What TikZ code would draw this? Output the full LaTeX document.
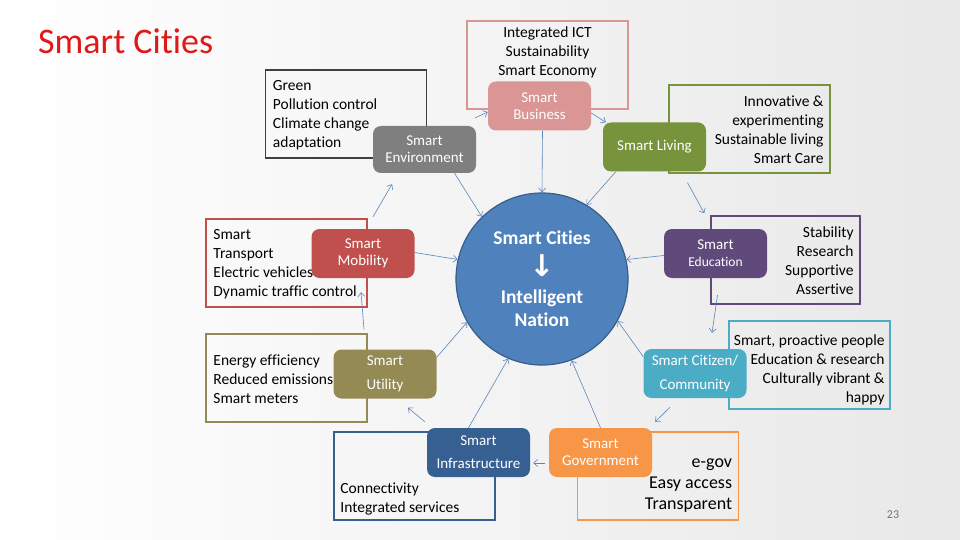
\documentclass[tikz,border=0pt]{standalone}
\usepackage{fontspec}
\setmainfont{Carlito}[Ligatures=NoCommon]
\newfontfamily\arrowfont{DejaVu Sans}
\usepackage{xcolor}
\usetikzlibrary{arrows.meta,positioning,calc}
\definecolor{bizpink}{HTML}{D99694}
\definecolor{envgray}{HTML}{7F7F7F}
\definecolor{envline}{HTML}{404040}
\definecolor{livgreen}{HTML}{77933C}
\definecolor{edupurple}{HTML}{604A7B}
\definecolor{mobred}{HTML}{C0504D}
\definecolor{utiolive}{HTML}{948A54}
\definecolor{citteal}{HTML}{4BACC6}
\definecolor{infblue}{HTML}{376092}
\definecolor{govorange}{HTML}{F79646}
\definecolor{hubblue}{HTML}{4F81BD}
\definecolor{hubline}{HTML}{385D8A}
\definecolor{linkblue}{HTML}{5A86BA}
\definecolor{titlered}{HTML}{E01818}
\newcommand{\setfs}[2]{\fontsize{#1}{#2}\selectfont}

\begin{document}
\begin{tikzpicture}[x=1pt, y=-1pt, >={Straight Barb[length=4pt,width=7pt]},
  tile/.style={rounded corners=8pt, minimum width=103pt, minimum height=49pt,
    inner sep=0pt, text=white, align=center, font=\setfs{15}{17}},
  note/.style={draw, line width=1.5pt, minimum width=161pt, minimum height=88pt, inner sep=0pt},
  notetext/.style={inner sep=0pt, font=\setfs{15.5}{19}},
  link/.style={->, draw=linkblue, line width=0.6pt}]
  % slide background
  \fill[left color=white, right color=black!9] (0,0) rectangle (960,540);
  \useasboundingbox (0,0) rectangle (960,540);
  \node[anchor=west, inner sep=0pt, text=titlered, font=\setfs{36}{40}] (title) at (38,41) {Smart Cities};
  \node[inner sep=0pt, text=black!55, font=\setfs{12}{14}] (pageno) at (893,515) {23};
  % outline boxes with their keywords
  \node[note, draw=bizpink] (busnote) at (547.5,65) {};
  \node[notetext, align=center] (bustxt) at ([yshift=-32pt]busnote.north) {Integrated ICT\\Sustainability\\Smart Economy};
  \node[note, draw=envline] (envnote) at (346,114) {};
  \node[notetext, align=left, anchor=west] (envtxt) at ([xshift=8pt,yshift=-1pt]envnote.west) {Green\\Pollution control\\Climate change\\adaptation};
  \node[note, draw=livgreen] (livnote) at (749.5,129) {};
  \node[notetext, align=right, anchor=east] (livtxt) at ([xshift=-7pt,yshift=-0.5pt]livnote.east) {Innovative \&\\experimenting\\Sustainable living\\Smart Care};
  \node[note, draw=edupurple, minimum width=149pt] (edunote) at (785.5,260) {};
  \node[notetext, align=right, anchor=east] (edutxt) at ([xshift=-7pt,yshift=-0.5pt]edunote.east) {Stability\\Research\\Supportive\\Assertive};
  \node[note, draw=mobred] (mobnote) at (286.5,263) {};
  \node[notetext, align=left, anchor=west] (mobtxt) at ([xshift=8pt,yshift=-1pt]mobnote.west) {Smart\\Transport\\Electric vehicles\\Dynamic traffic control};
  \node[note, draw=utiolive] (utinote) at (286.5,378) {};
  \node[notetext, align=left, anchor=west] (utitxt) at ([xshift=8pt,yshift=-1pt]utinote.west) {Energy efficiency\\Reduced emissions\\Smart meters};
  \node[note, draw=citteal] (citnote) at (809.5,365) {};
  \node[notetext, align=right, anchor=east] (cittxt) at ([xshift=-6pt,yshift=-5pt]citnote.east) {Smart, proactive people\\Education \& research\\Culturally vibrant \&\\happy};
  \node[note, draw=infblue] (infnote) at (414.5,476) {};
  \node[notetext, align=left, anchor=west] (inftxt) at ([xshift=7pt,yshift=-22.5pt]infnote.west) {Connectivity\\Integrated services};
  \node[note, draw=govorange] (govnote) at (658,476) {};
  \node[notetext, align=right, anchor=east, font=\setfs{18}{21}] (govtxt) at ([xshift=-7pt,yshift=-10pt]govnote.east) {e-gov\\Easy access\\Transparent};
  % coloured tiles
  \node[tile, fill=bizpink] (bus) at (539.5,106) {Smart\\Business};
  \node[tile, fill=envgray, minimum height=47pt] (env) at (424.5,149.5) {Smart\\Environment};
  \node[tile, fill=livgreen] (liv) at (654.5,147) {Smart Living};
  \node[tile, fill=edupurple] (edu) at (715.5,253.5) {Smart\\{\setfs{13.5}{15}Education}};
  \node[tile, fill=mobred] (mob) at (363,253.5) {Smart\\Mobility};
  \node[tile, fill=utiolive] (uti) at (385,374) {Smart\\[7pt]Utility};
  \node[tile, fill=citteal] (cit) at (695,373.5) {Smart Citizen/\\[7pt]Community};
  \node[tile, fill=infblue] (inf) at (478.5,452.5) {Smart\\[6pt]Infrastructure};
  \node[tile, fill=govorange] (gov) at (600.5,452.5) {Smart\\Government};
  % centre
  \node[circle, fill=hubblue, draw=hubline, line width=1.2pt, minimum size=172pt, inner sep=0pt,
    text=white, align=center, font=\bfseries\setfs{19.5}{23}] (hub) at (542,279)
    {Smart Cities\\[9pt]{\arrowfont\setfs{30}{30}↓}\\[4pt]Intelligent\\Nation};
  % spokes into the centre
  \draw[link] ([xshift=30pt]env.south) -- (hub.134);
  \draw[link] ([xshift=3pt]bus.south) -- (hub.north);
  \draw[link] ([xshift=13pt]liv.south west) -- (hub.59);
  \draw[link] ([yshift=-2pt]edu.west) -- (hub.13);
  \draw[link] ([yshift=1pt]mob.east) -- (hub.167);
  \draw[link] ([yshift=-8pt]uti.north east) -- (hub.-150);
  \draw[link] ([xshift=-10pt]inf.north) -- (hub.-113);
  \draw[link] (gov.north) -- (hub.-70);
  \draw[link] ([yshift=-8pt]cit.north west) -- (hub.-29);
  % ring round the tiles
  \draw[link] ([xshift=-1pt,yshift=8pt]env.north east) -- ([yshift=-6pt]bus.west);
  \draw[link] ([yshift=-7pt]bus.east) -- ([xshift=3pt]liv.north west);
  \draw[link] ([xshift=33pt,yshift=-11pt]liv.south) -- ([xshift=-6pt,yshift=2pt]edunote.north west);
  \draw[link] ([xshift=2pt,yshift=-17pt]edu.south) -- ([xshift=17pt,yshift=16pt]cit.north);
  \draw[link] ([xshift=-25pt,yshift=-9pt]cit.south) -- ([xshift=3pt,yshift=6pt]gov.north east);
  \draw[link] ([xshift=-4pt,yshift=-10.5pt]gov.west) -- ([xshift=3pt,yshift=-10.5pt]inf.east);
  \draw[link] ([xshift=-2pt,yshift=6pt]inf.north west) -- ([xshift=23pt,yshift=-9pt]uti.south);
  \draw[link] ([xshift=-21pt,yshift=20pt]uti.north) -- ([xshift=-2pt,yshift=-14pt]mob.south);
  \draw[link] ([xshift=10pt,yshift=12pt]mob.north) -- ([xshift=-32.5pt,yshift=-11pt]env.south);
\end{tikzpicture}
\end{document}
